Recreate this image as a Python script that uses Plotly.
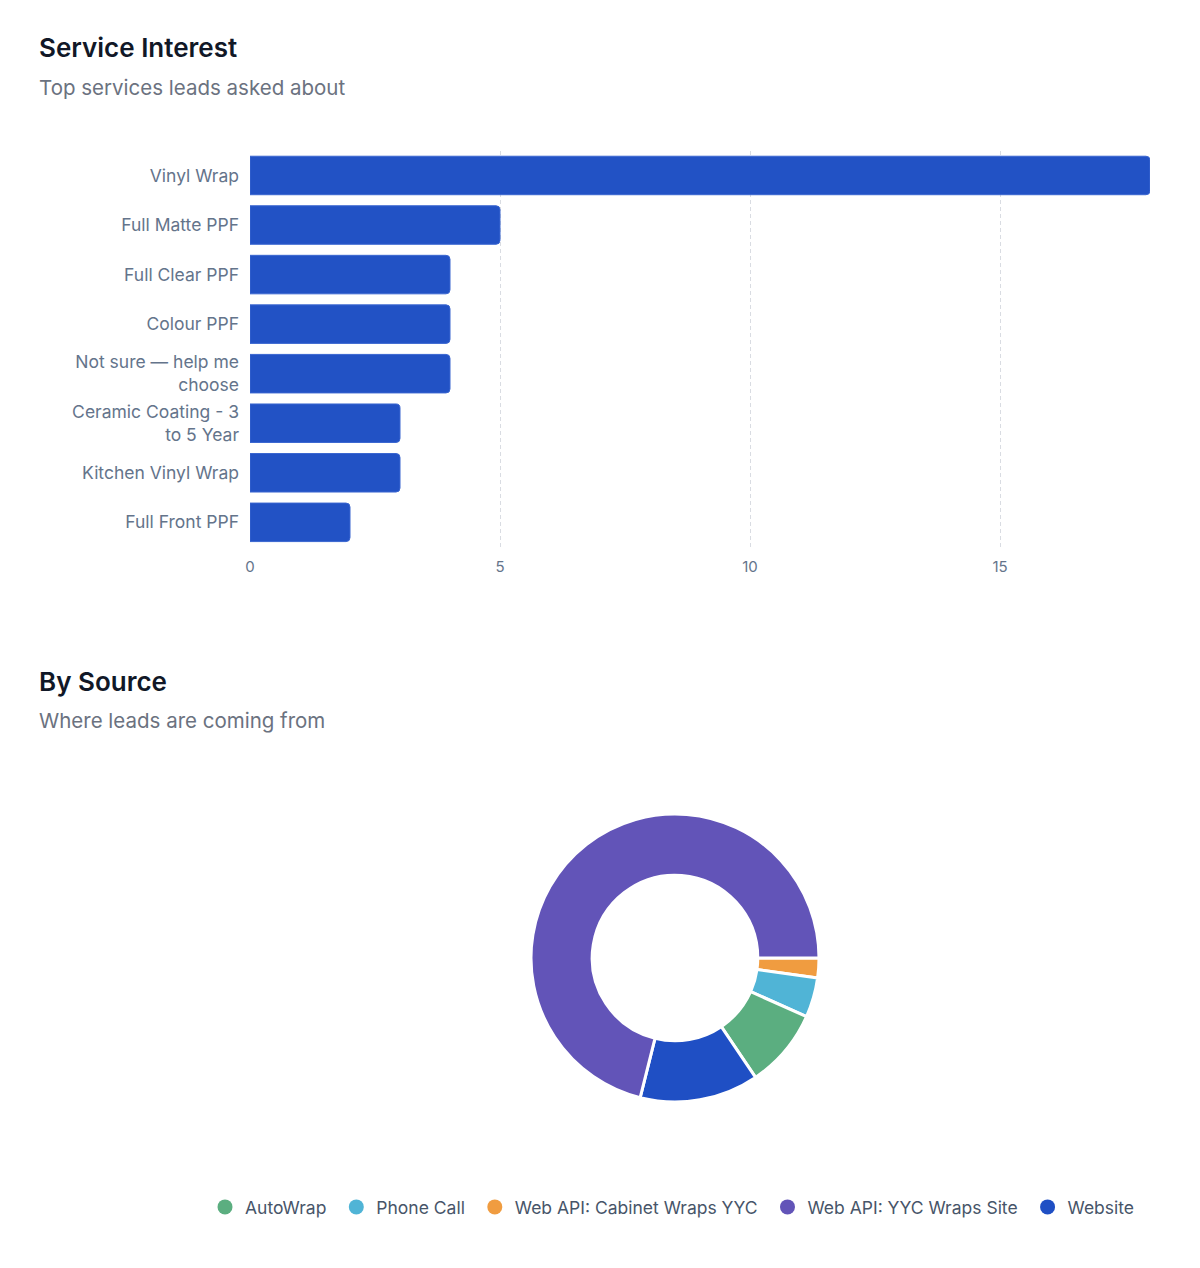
import plotly.graph_objects as go

# ---- data ----
services = ["Vinyl Wrap", "Full Matte PPF", "Full Clear PPF", "Colour PPF",
            "Not sure — help me<br>choose", "Ceramic Coating - 3<br>to 5 Year",
            "Kitchen Vinyl Wrap", "Full Front PPF"]
service_counts = [18, 5, 4, 4, 4, 3, 3, 2]
x_ticks = [0, 5, 10, 15]

# legend order
sources = ["AutoWrap", "Phone Call", "Web API: Cabinet Wraps YYC",
           "Web API: YYC Wraps Site", "Website"]
source_counts = [4, 2, 1, 32, 6]
source_colors = ["#5bae80", "#50b4d6", "#f09c40", "#6254b8", "#1f4fc4"]
# slice drawing order (clockwise from 3 o'clock)
slice_order = ["Web API: Cabinet Wraps YYC", "Phone Call", "AutoWrap",
               "Website", "Web API: YYC Wraps Site"]

W, H = 1200, 1268
FONT = "Inter"
BAR_COLOR = "#2252c5"
PAD = "\u00a0"

fig = go.Figure()

fig.add_trace(go.Bar(
    x=service_counts, y=services, orientation="h",
    marker=dict(color=BAR_COLOR, line=dict(color="#3a66d0", width=1), cornerradius=4),
    hoverinfo="skip", showlegend=False, xaxis="x", yaxis="y",
))

idx = [sources.index(s) for s in slice_order]
fig.add_trace(go.Pie(
    labels=[sources[i] for i in idx],
    values=[source_counts[i] for i in idx],
    marker=dict(colors=[source_colors[i] for i in idx], line=dict(color="white", width=3)),
    hole=0.575, sort=False, direction="clockwise", rotation=90,
    textinfo="none", hoverinfo="skip", showlegend=False,
    domain=dict(x=[531 / W, 819 / W], y=[1 - 1102 / H, 1 - 814 / H]),
))

for k, (name, color) in enumerate(zip(sources, source_colors)):
    fig.add_trace(go.Scatter(
        x=[None], y=[None], mode="markers",
        name=name + (PAD if k < len(sources) - 1 else ""),
        marker=dict(color=color, size=15, symbol="circle"),
        xaxis="x2", yaxis="y2", hoverinfo="skip",
    ))

fig.update_layout(
    width=W, height=H,
    margin=dict(l=0, r=0, t=0, b=0),
    paper_bgcolor="white", plot_bgcolor="white",
    font=dict(family=FONT, color="#64748b"),
    bargap=0.223,
    showlegend=True,
    legend=dict(orientation="h", x=672.5 / W, xanchor="center", y=1 - 1207 / H, yanchor="middle",
                font=dict(family=FONT, size=17.5, color="#475569"), itemsizing="trace",
                bgcolor="rgba(0,0,0,0)"),
    xaxis=dict(domain=[250 / W, 1150 / W], range=[0, 18], tickvals=x_ticks,
               showgrid=True, gridcolor="#d9dce2", griddash="4px,3px", gridwidth=1,
               zeroline=False, showline=False, ticks="", automargin=False,
               tickfont=dict(size=15, color="#64748b"), ticklabelstandoff=9,
               anchor="y", fixedrange=True),
    yaxis=dict(domain=[1 - 547.1 / H, 1 - 150.7 / H], autorange="reversed",
               showgrid=False, zeroline=False, showline=False, ticks="", automargin=False,
               tickfont=dict(size=17.5, color="#64748b"), ticklabelstandoff=10,
               anchor="x", fixedrange=True),
    xaxis2=dict(domain=[0, 0.001], visible=False, anchor="y2"),
    yaxis2=dict(domain=[0, 0.001], visible=False, anchor="x2"),
    annotations=[
        dict(text="Service Interest", x=40 / W, y=1 - 48 / H, xref="paper", yref="paper",
             xanchor="left", yanchor="middle", showarrow=False, xshift=-3,
             font=dict(family=FONT, size=26, color="#111827", weight=600)),
        dict(text="Top services leads asked about", x=40 / W, y=1 - 87 / H, xref="paper", yref="paper",
             xanchor="left", yanchor="middle", showarrow=False, xshift=-3,
             font=dict(family=FONT, size=20.5, color="#6b7280")),
        dict(text="By Source", x=40 / W, y=1 - 681 / H, xref="paper", yref="paper",
             xanchor="left", yanchor="middle", showarrow=False, xshift=-3,
             font=dict(family=FONT, size=26, color="#111827", weight=600)),
        dict(text="Where leads are coming from", x=40 / W, y=1 - 720 / H, xref="paper", yref="paper",
             xanchor="left", yanchor="middle", showarrow=False, xshift=-3,
             font=dict(family=FONT, size=20.5, color="#6b7280")),
    ],
)

fig.write_html("out.html", config={"displayModeBar": False})
